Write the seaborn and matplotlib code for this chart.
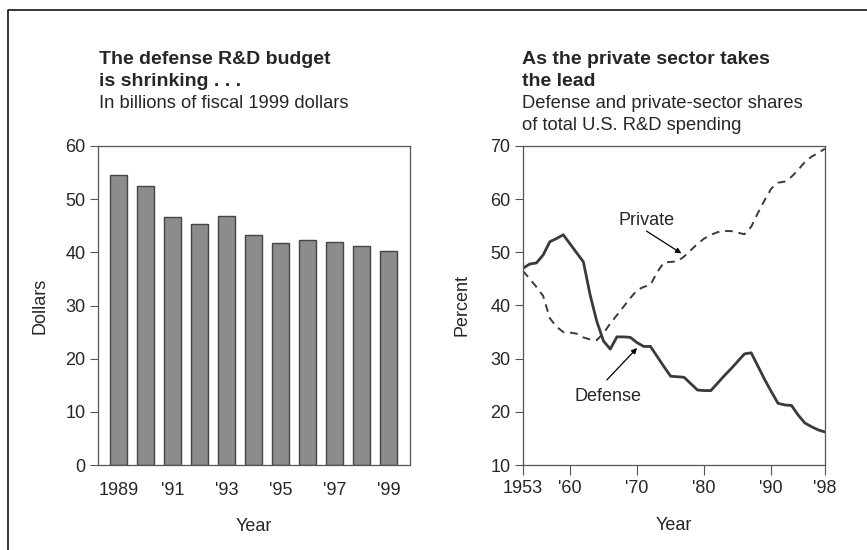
import matplotlib
matplotlib.use("Agg")
import matplotlib.pyplot as plt
from matplotlib.lines import Line2D
import seaborn as sns
import pandas as pd

# ---- data ----
budget_years = ["1989", "1990", "1991", "1992", "1993", "1994", "1995", "1996", "1997", "1998", "1999"]
budget_values = [54.6, 52.4, 46.6, 45.3, 46.8, 43.2, 41.8, 42.4, 41.9, 41.1, 40.3]
budget_tick_labels = ["1989", "'91", "'93", "'95", "'97", "'99"]

share_years = list(range(1953, 1999))
defense_share = [47.0, 47.8, 48.0, 49.5, 52.0, 52.6, 53.3, 51.6, 49.9, 48.2,
                 42.0, 37.0, 33.3, 31.8, 34.1, 34.1, 34.0, 33.0, 32.3, 32.3,
                 30.4, 28.5, 26.7, 26.6, 26.5, 25.3, 24.1, 24.0, 24.0, 25.4,
                 26.8, 28.1, 29.5, 30.9, 31.1, 28.6, 26.1, 23.8, 21.6, 21.3,
                 21.2, 19.4, 17.9, 17.2, 16.6, 16.2]
private_share = [46.5, 45.0, 43.5, 41.8, 37.6, 36.0, 35.0, 34.9, 34.7, 34.0,
                 33.6, 33.5, 34.8, 36.6, 38.2, 39.8, 41.4, 42.9, 43.5, 43.9,
                 46.3, 48.1, 48.2, 48.3, 49.2, 50.4, 51.6, 52.6, 53.3, 53.8,
                 54.0, 54.0, 53.7, 53.4, 54.8, 57.4, 59.8, 62.0, 63.1, 63.3,
                 64.2, 65.5, 67.0, 68.0, 68.7, 69.5]
share_ticks = [1953, 1960, 1970, 1980, 1990, 1998]
share_tick_labels = ["1953", "'60", "'70", "'80", "'90", "'98"]

# ---- style ----
sns.set_style("ticks")
plt.rcParams["font.family"] = ["Liberation Sans", "DejaVu Sans"]

W, H = 867, 550
fig = plt.figure(figsize=(W / 100, H / 100), dpi=100)

def fx(px):
    return px / W

def fy(py):
    return 1 - py / H

spine_col = "#555555"
line_col = "#3a3a3a"

# left axes
ax1 = fig.add_axes([fx(98), fy(465), fx(410) - fx(98), fy(146) - fy(465)])
df1 = pd.DataFrame({"year": budget_years, "value": budget_values})
sns.barplot(data=df1, x="year", y="value", ax=ax1, color="#8c8c8c",
            edgecolor="#444444", linewidth=1.0, width=0.63, saturation=1)
ax1.set_xlim(-0.76, 10.78)
ax1.set_ylim(0, 60)
ax1.set_yticks(range(0, 61, 10))
ax1.set_xticks(range(0, 11, 2))
ax1.set_xticklabels(budget_tick_labels)
ax1.tick_params(axis="x", length=0, pad=12, labelsize=13)
ax1.tick_params(axis="y", length=6, width=0.8, color=spine_col, pad=3, labelsize=13)
ax1.set_xlabel("Year", fontsize=13, labelpad=14)
ax1.set_ylabel("Dollars", fontsize=13)
ax1.yaxis.set_label_coords(-0.16, 0.5)
for s in ax1.spines.values():
    s.set_color(spine_col)
    s.set_linewidth(0.9)

# right axes
ax2 = fig.add_axes([fx(523), fy(465), fx(825) - fx(523), fy(146) - fy(465)])
df2 = pd.DataFrame({"year": share_years, "Defense": defense_share, "Private": private_share})
sns.lineplot(data=df2, x="year", y="Defense", ax=ax2, color=line_col, linewidth=2.0)
sns.lineplot(data=df2, x="year", y="Private", ax=ax2, color=line_col, linewidth=1.4,
             linestyle=(0, (4.0, 3.0)))
ax2.set_xlim(1953, 1998)
ax2.set_ylim(10, 70)
ax2.set_yticks(range(10, 71, 10))
ax2.set_xticks(share_ticks)
ax2.set_xticklabels(share_tick_labels)
ax2.tick_params(axis="x", length=7, width=0.8, color=spine_col, pad=4, labelsize=13)
ax2.tick_params(axis="y", length=6, width=0.8, color=spine_col, pad=3, labelsize=13)
ax2.set_xlabel("Year", fontsize=13, labelpad=14)
ax2.set_ylabel("Percent", fontsize=13)
ax2.yaxis.set_label_coords(-0.175, 0.5)
for s in ax2.spines.values():
    s.set_color(spine_col)
    s.set_linewidth(0.9)

arrow_kw = dict(arrowstyle="-|>", color="black", lw=0.9, mutation_scale=8,
                shrinkA=0, shrinkB=0)
ax2.text(1971.4, 55.9, "Private", ha="center", va="center", fontsize=13)
ax2.annotate("", xy=(1976.6, 49.8), xytext=(1971.4, 54.0), arrowprops=arrow_kw)
ax2.text(1965.7, 22.9, "Defense", ha="center", va="center", fontsize=13)
ax2.annotate("", xy=(1970.0, 32.0), xytext=(1965.5, 26.0), arrowprops=arrow_kw)

# titles
fig.text(fx(99), fy(64), "The defense R&D budget", fontsize=14, fontweight="bold", va="baseline")
fig.text(fx(99), fy(86), "is shrinking . . .", fontsize=14, fontweight="bold", va="baseline")
fig.text(fx(99), fy(108), "In billions of fiscal 1999 dollars", fontsize=13.2, va="baseline")
fig.text(fx(522), fy(64), "As the private sector takes", fontsize=14, fontweight="bold", va="baseline")
fig.text(fx(522), fy(86), "the lead", fontsize=14, fontweight="bold", va="baseline")
fig.text(fx(522), fy(108), "Defense and private-sector shares", fontsize=13.2, va="baseline")
fig.text(fx(522), fy(130), "of total U.S. R&D spending", fontsize=13.2, va="baseline")

# outer frame (top and left edges)
fig.add_artist(Line2D([fx(8), fx(8), 1.0], [0.0, fy(10), fy(10)],
                      transform=fig.transFigure, color="black", linewidth=1.1))

fig.savefig("out.png", dpi=100)
